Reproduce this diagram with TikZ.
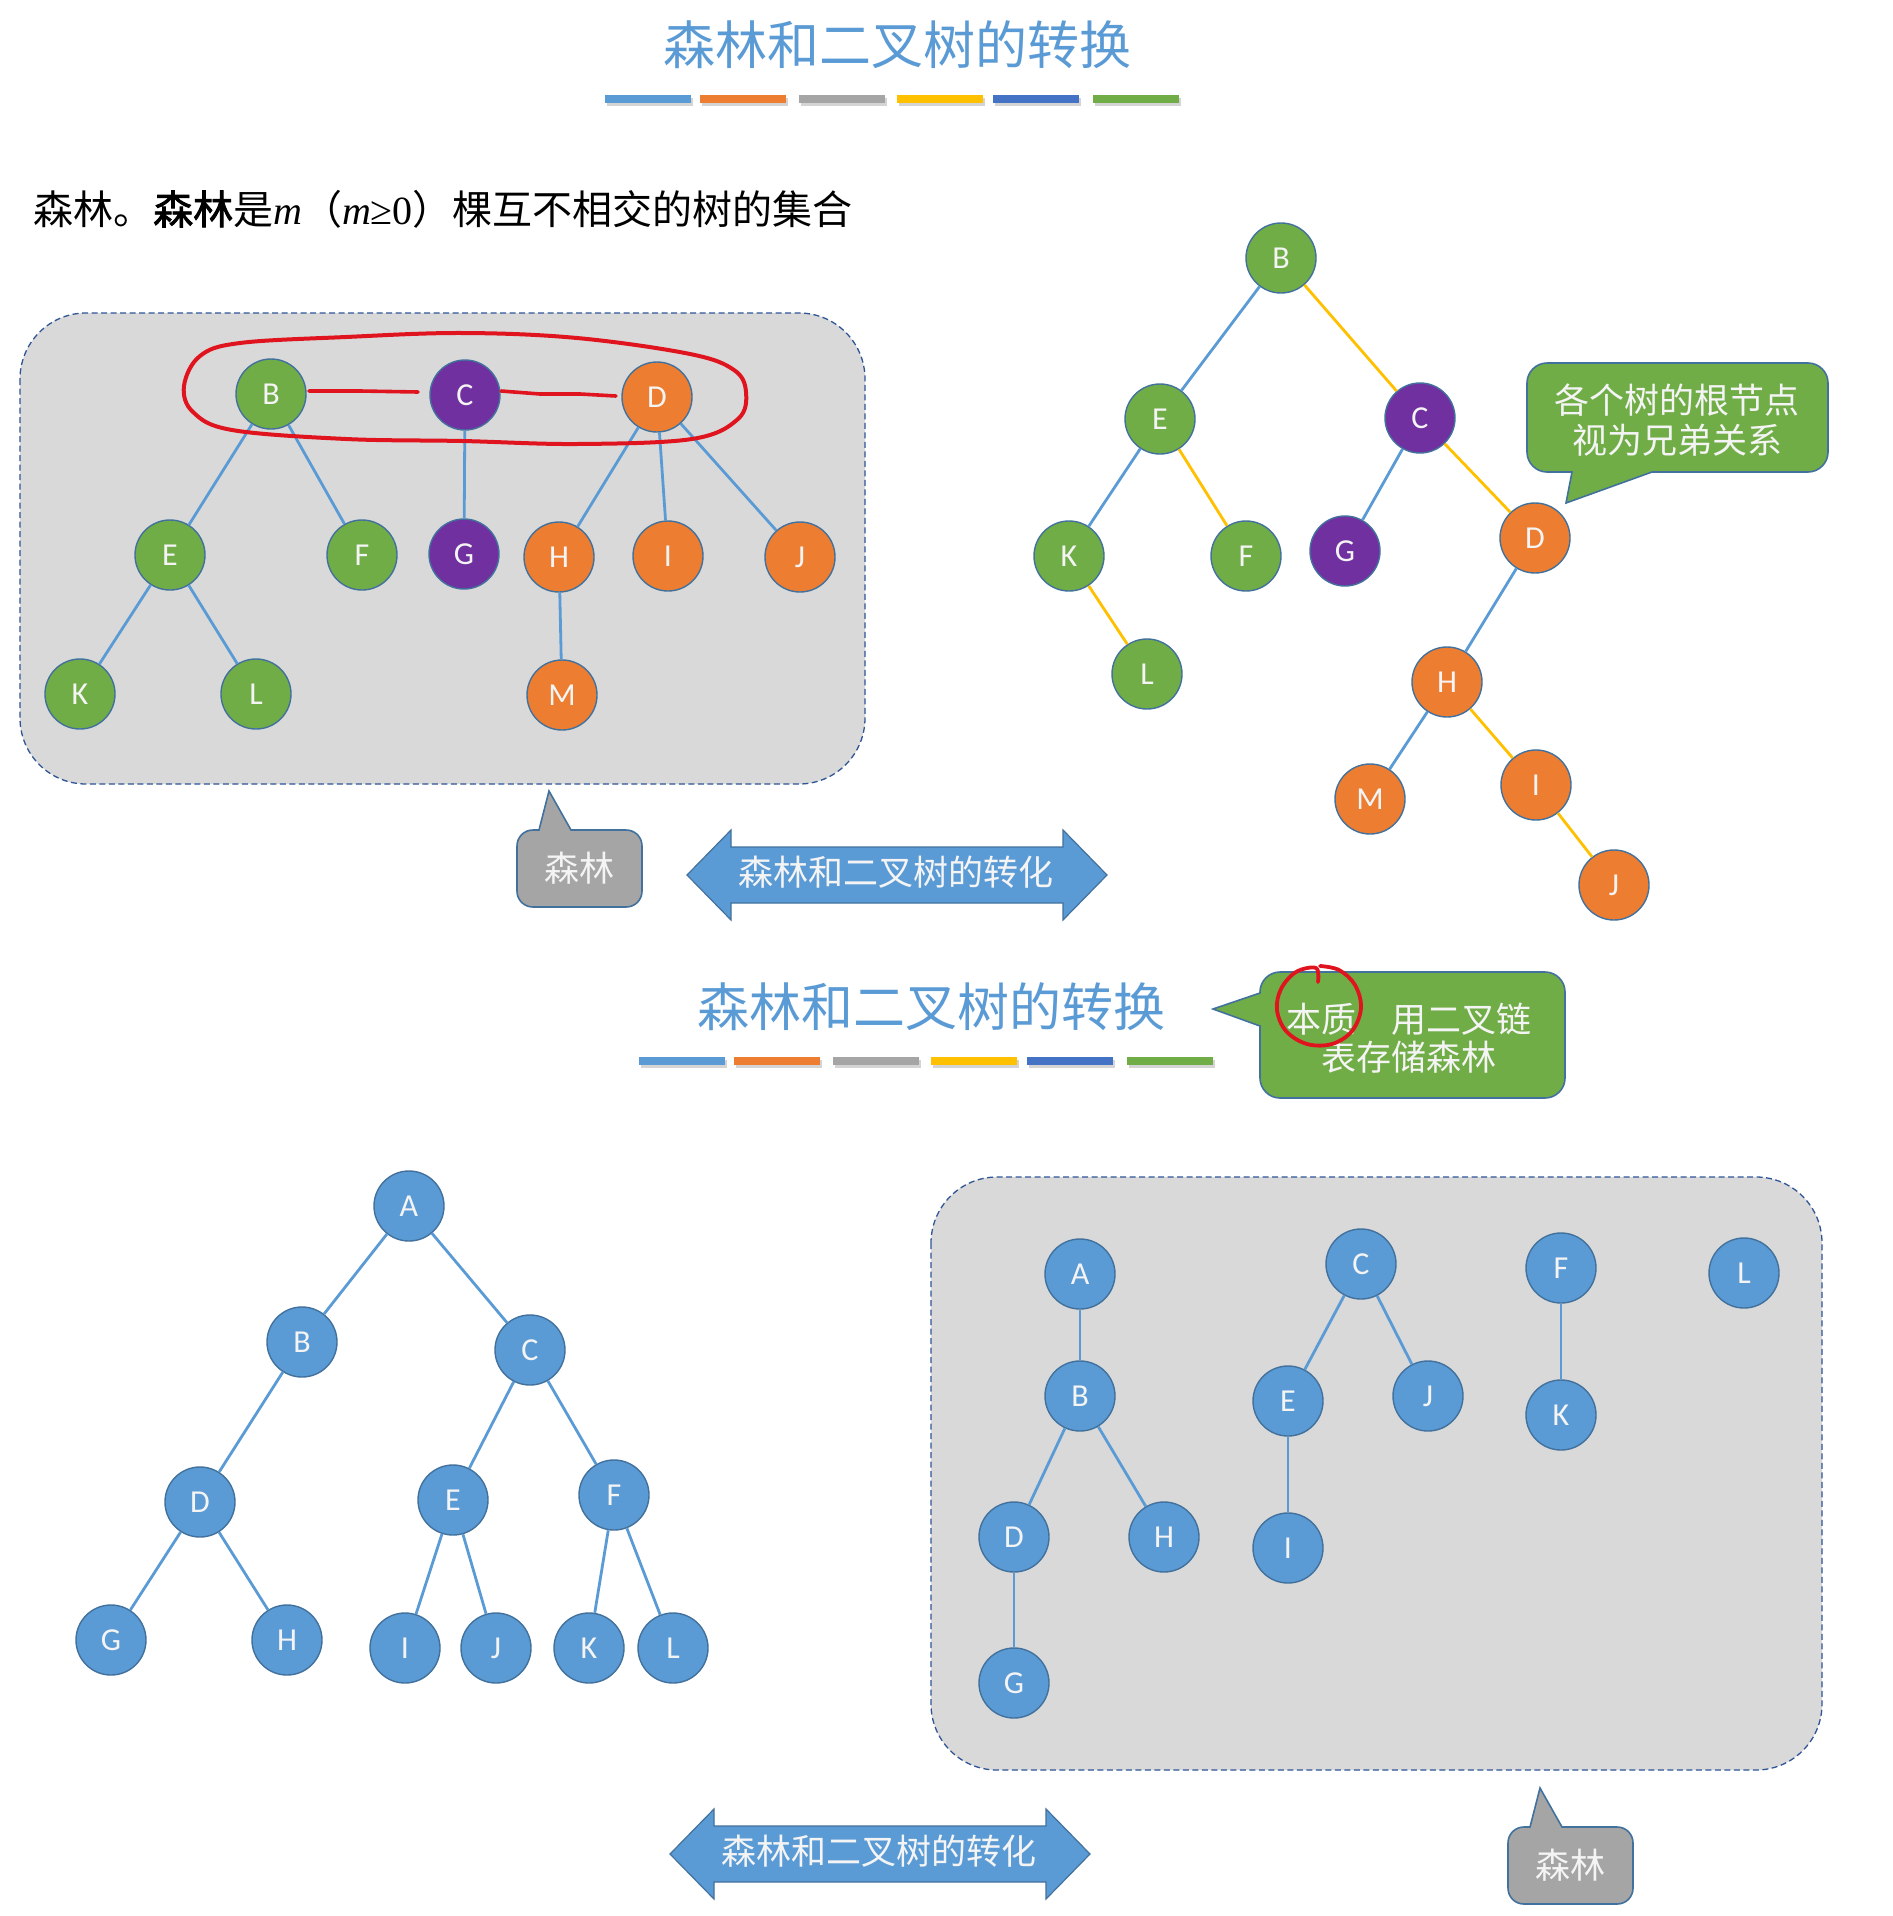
\documentclass[tikz,border=0pt]{standalone}
\usepackage{fontspec}
\setmainfont{Liberation Serif}
\newfontfamily\cjk{Noto Sans CJK SC}
\newfontfamily\cjkb{Noto Sans CJK SC}[FakeBold=2]
\newfontfamily\lab{Carlito}
\definecolor{cblue}{HTML}{5B9BD5}
\definecolor{corange}{HTML}{ED7D31}
\definecolor{cgray}{HTML}{A5A5A5}
\definecolor{cyellow}{HTML}{FFC000}
\definecolor{cdblue}{HTML}{4472C4}
\definecolor{cgreen}{HTML}{70AD47}
\definecolor{cpurple}{HTML}{7030A0}
\definecolor{nodeline}{HTML}{41719C}
\definecolor{boxfill}{HTML}{D9D9D9}
\definecolor{boxline}{HTML}{2F5597}
\definecolor{cred}{HTML}{E0141E}
\definecolor{ctext}{HTML}{F4F4F4}
\tikzset{
  nd/.style={circle, minimum size=70pt, inner sep=0pt, draw=nodeline, line width=1.4pt,
    text=ctext, font=\lab\fontsize{32}{32}\selectfont},
  ngreen/.style={nd, fill=cgreen},
  npurple/.style={nd, fill=cpurple},
  norange/.style={nd, fill=corange},
  nblue/.style={nd, fill=cblue},
  bedge/.style={draw=cblue, line width=2.8pt},
  yedge/.style={draw=cyellow, line width=2.8pt},
  forestbox/.style={fill=boxfill, draw=boxline, line width=1.3pt, dash pattern=on 6pt off 3.5pt, rounded corners=66pt},
  callgreen/.style={fill=cgreen, draw=nodeline, line width=1.6pt},
  callgray/.style={fill=cgray, draw=nodeline, line width=1.6pt},
  calltext/.style={text=ctext, font=\cjk\fontsize{35}{40}\selectfont, align=center, inner sep=0pt},
  dblarrow/.style={fill=cblue, draw=nodeline, line width=1.2pt},
  titletext/.style={text=cblue, font=\cjk\fontsize{52}{60}\selectfont, inner sep=0pt},
  redmark/.style={draw=cred, line width=4pt, line cap=round, line join=round},
}
\begin{document}
\begin{tikzpicture}[x=1pt,y=-1pt]
\useasboundingbox (0,0) rectangle (1892,1916);
\fill[white] (0,0) rectangle (1892,1916);

% ---------- title 1 ----------
\node[titletext] (title1) at (897,45) {森林和二叉树的转换};
\foreach \a/\c in {605/cblue,700/corange,799/cgray,897/cyellow,993/cdblue,1093/cgreen}{
  \fill[black!30,opacity=.55] (\a+2,98) rectangle (\a+88,106);
  \fill[\c] (\a,95) rectangle (\a+86,103);
}

% ---------- definition ----------
\node[anchor=west, inner sep=0pt, font=\cjk\fontsize{40}{48}\selectfont] (def) at (33,209)
  {森林。{\cjkb 森林}是{\rmfamily\itshape m}（{\rmfamily\itshape m}{\rmfamily ≥0}）棵互不相交的树的集合};

% ---------- forest 1 ----------
\draw[forestbox] (20,313) rectangle (865,784);
\node[ngreen]  (fB) at (271,394) {B};
\node[npurple] (fC) at (465,395) {C};
\node[norange] (fD) at (657,397) {D};
\node[ngreen]  (fE) at (170,555) {E};
\node[ngreen]  (fF) at (362,555) {F};
\node[npurple] (fG) at (464,554) {G};
\node[norange] (fH) at (559,557) {H};
\node[norange] (fI) at (668,556) {I};
\node[norange] (fJ) at (800,557) {J};
\node[ngreen]  (fK) at (80,694) {K};
\node[ngreen]  (fL) at (256,694) {L};
\node[norange] (fM) at (562,695) {M};
\draw[bedge] (fB) -- (fE); \draw[bedge] (fB) -- (fF);
\draw[bedge] (fC) -- (fG);
\draw[bedge] (fD) -- (fH); \draw[bedge] (fD) -- (fI); \draw[bedge] (fD) -- (fJ);
\draw[bedge] (fE) -- (fK); \draw[bedge] (fE) -- (fL);
\draw[bedge] (fH) -- (fM);

% red marks
\draw[redmark] plot[smooth cycle, tension=0.6] coordinates {
  (184,386) (200,356) (240,343) (346,337) (462,333) (577,338) (690,354) (734,370)
  (746,392) (738,419) (692,439) (577,444) (462,441) (346,439) (232,430) (193,412)};
\draw[redmark, line width=3.6pt] (309,391) -- (360,391) -- (418,392);
\draw[redmark, line width=3.6pt] (501,391) -- (540,394) -- (580,394) -- (616,396);

% gray callout 1
\draw[callgray] (533,830) -- (539,830) -- (549,791) -- (571,830) -- (626,830)
  .. controls (635,830) and (642,837) .. (642,846) -- (642,891) .. controls (642,900) and (635,907) .. (626,907)
  -- (533,907) .. controls (524,907) and (517,900) .. (517,891) -- (517,846) .. controls (517,837) and (524,830) .. (533,830) -- cycle;
\node[calltext] (gc1) at (579,868) {森林};

% double arrow 1
\draw[dblarrow] (687,875) -- (731,830) -- (731,847) -- (1063,847) -- (1063,830) -- (1107,875)
  -- (1063,920) -- (1063,903) -- (731,903) -- (731,920) -- cycle;
\node[calltext] (da1) at (896,872) {森林和二叉树的转化};

% ---------- binary tree (top right) ----------
\node[ngreen]  (tB) at (1281,258) {B};
\node[ngreen]  (tE) at (1160,419) {E};
\node[npurple] (tC) at (1420,418) {C};
\node[ngreen]  (tK) at (1069,556) {K};
\node[ngreen]  (tF) at (1246,556) {F};
\node[npurple] (tG) at (1345,551) {G};
\node[norange] (tD) at (1535,538) {D};
\node[ngreen]  (tL) at (1147,674) {L};
\node[norange] (tH) at (1447,682) {H};
\node[norange] (tM) at (1370,799) {M};
\node[norange] (tI) at (1536,785) {I};
\node[norange] (tJ) at (1614,885) {J};
\draw[bedge] (tB) -- (tE); \draw[yedge] (tB) -- (tC);
\draw[bedge] (tE) -- (tK); \draw[yedge] (tE) -- (tF);
\draw[yedge] (tK) -- (tL);
\draw[bedge] (tC) -- (tG); \draw[yedge] (tC) -- (tD);
\draw[bedge] (tD) -- (tH);
\draw[bedge] (tH) -- (tM); \draw[yedge] (tH) -- (tI);
\draw[yedge] (tI) -- (tJ);

% green callout 1
\draw[callgreen] (1547,363) -- (1808,363) .. controls (1819,363) and (1828,372) .. (1828,383) -- (1828,452)
  .. controls (1828,463) and (1819,472) .. (1808,472) -- (1652,472) -- (1566,503) -- (1572,472) -- (1547,472)
  .. controls (1536,472) and (1527,463) .. (1527,452) -- (1527,383) .. controls (1527,372) and (1536,363) .. (1547,363) -- cycle;
\node[calltext] (gr1) at (1677,420) {各个树的根节点\\视为兄弟关系};

% ---------- title 2 ----------
\begin{scope}[shift={(34,962)}]
\node[titletext] (title2) at (897,45) {森林和二叉树的转换};
\foreach \a/\c in {605/cblue,700/corange,799/cgray,897/cyellow,993/cdblue,1093/cgreen}{
  \fill[black!30,opacity=.55] (\a+2,98) rectangle (\a+88,106);
  \fill[\c] (\a,95) rectangle (\a+86,103);
}
\end{scope}

% green callout 2
\draw[callgreen] (1280,972) -- (1545,972) .. controls (1556,972) and (1565,981) .. (1565,992) -- (1565,1078)
  .. controls (1565,1089) and (1556,1098) .. (1545,1098) -- (1280,1098) .. controls (1269,1098) and (1260,1089) .. (1260,1078)
  -- (1260,1026) -- (1213,1009) -- (1260,993) -- (1260,992) .. controls (1260,981) and (1269,972) .. (1280,972) -- cycle;
\node[calltext, font=\cjk\fontsize{35}{38}\selectfont] (gr2) at (1409,1038) {本质\hspace{1em}用二叉链\\表存储森林};
\draw[redmark, line width=3.8pt] plot[smooth, tension=0.6] coordinates {
  (1318,982) (1316,968) (1296,972) (1281,989) (1277,1010) (1286,1031) (1307,1044) (1332,1044)
  (1352,1031) (1361,1008) (1355,985) (1339,970) (1320,966)};

% ---------- binary tree (bottom left) ----------
\node[nblue] (bA) at (409,1206) {A};
\node[nblue] (bB) at (302,1342) {B};
\node[nblue] (bC) at (530,1350) {C};
\node[nblue] (bD) at (200,1502) {D};
\node[nblue] (bE) at (453,1500) {E};
\node[nblue] (bF) at (614,1495) {F};
\node[nblue] (bG) at (111,1640) {G};
\node[nblue] (bH) at (287,1640) {H};
\node[nblue] (bI) at (405,1648) {I};
\node[nblue] (bJ) at (496,1648) {J};
\node[nblue] (bK) at (589,1648) {K};
\node[nblue] (bL) at (673,1648) {L};
\draw[bedge] (bA) -- (bB); \draw[bedge] (bA) -- (bC);
\draw[bedge] (bB) -- (bD);
\draw[bedge] (bC) -- (bE); \draw[bedge] (bC) -- (bF);
\draw[bedge] (bD) -- (bG); \draw[bedge] (bD) -- (bH);
\draw[bedge] (bE) -- (bI); \draw[bedge] (bE) -- (bJ);
\draw[bedge] (bF) -- (bK); \draw[bedge] (bF) -- (bL);

% ---------- forest 2 ----------
\draw[forestbox] (931,1177) rectangle (1822,1770);
\node[nblue] (rA) at (1080,1274) {A};
\node[nblue] (rB) at (1080,1396) {B};
\node[nblue] (rD) at (1014,1537) {D};
\node[nblue] (rH) at (1164,1537) {H};
\node[nblue] (rG) at (1014,1683) {G};
\node[nblue] (rC) at (1361,1264) {C};
\node[nblue] (rE) at (1288,1401) {E};
\node[nblue] (rJ) at (1428,1396) {J};
\node[nblue] (rI) at (1288,1548) {I};
\node[nblue] (rF) at (1561,1268) {F};
\node[nblue] (rK) at (1561,1415) {K};
\node[nblue] (rL) at (1744,1273) {L};
\draw[bedge] (rA) -- (rB);
\draw[bedge] (rB) -- (rD); \draw[bedge] (rB) -- (rH);
\draw[bedge] (rD) -- (rG);
\draw[bedge] (rC) -- (rE); \draw[bedge] (rC) -- (rJ);
\draw[bedge] (rE) -- (rI);
\draw[bedge] (rF) -- (rK);

% double arrow 2
\draw[dblarrow] (670,1854) -- (714,1809) -- (714,1826) -- (1046,1826) -- (1046,1809) -- (1090,1854)
  -- (1046,1899) -- (1046,1882) -- (714,1882) -- (714,1899) -- cycle;
\node[calltext] (da2) at (879,1851) {森林和二叉树的转化};

% gray callout 2
\begin{scope}[shift={(991,997)}]
\draw[callgray] (533,830) -- (539,830) -- (549,791) -- (571,830) -- (626,830)
  .. controls (635,830) and (642,837) .. (642,846) -- (642,891) .. controls (642,900) and (635,907) .. (626,907)
  -- (533,907) .. controls (524,907) and (517,900) .. (517,891) -- (517,846) .. controls (517,837) and (524,830) .. (533,830) -- cycle;
\node[calltext] (gc2) at (579,868) {森林};
\end{scope}
\end{tikzpicture}
\end{document}
